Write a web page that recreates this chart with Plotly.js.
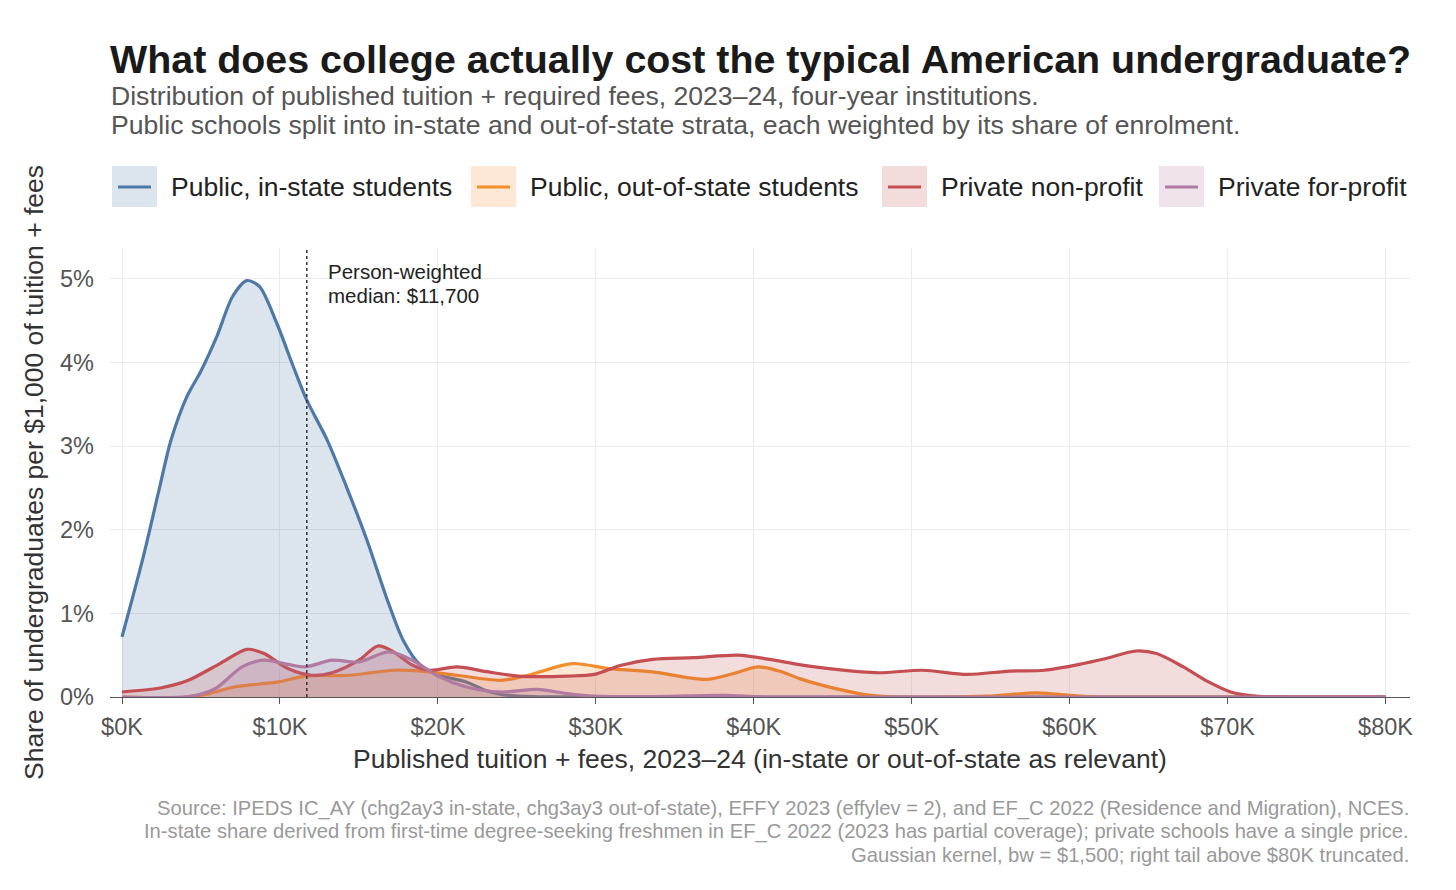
<!DOCTYPE html>
<html>
<head>
<meta charset="utf-8">
<script src="https://cdn.plot.ly/plotly-3.0.1.min.js"></script>
<style>
  html, body { margin: 0; padding: 0; background: #fff; }
  #chart { width: 1456px; height: 890px; }
</style>
</head>
<body>
<div id="chart"></div>
<script>
(function () {

	'use strict';

	// tuition in $K, density in % of undergraduates per $1,000
	const inStateX  = [0, 1.35, 2.3, 3.1, 4.1, 5.0, 6.0, 7.0, 7.9, 8.7, 9.8, 10.85, 11.7, 13.0, 14.2, 15.5, 16.8, 17.8, 18.9, 20.1, 21.8, 23.0, 24.0, 26.0, 30.0, 80.0];
	const inStateY  = [0.72, 1.68, 2.44, 3.07, 3.59, 3.90, 4.31, 4.79, 4.98, 4.91, 4.47, 3.95, 3.55, 3.07, 2.52, 1.88, 1.16, 0.68, 0.38, 0.26, 0.18, 0.08, 0.03, 0.005, 0, 0];

	const outStateX = [0, 4.2, 5.5, 7.1, 9.9, 11.6, 14.4, 17.2, 18.9, 21.2, 24.0, 25.7, 28.5, 30.8, 33.6, 37.0, 38.7, 40.3, 41.8, 42.9, 45.2, 47.4, 49.3, 54.8, 57.9, 60.6, 62.0, 80.0];
	const outStateY = [0, 0, 0.04, 0.12, 0.18, 0.25, 0.26, 0.32, 0.31, 0.26, 0.20, 0.26, 0.40, 0.34, 0.30, 0.21, 0.28, 0.36, 0.30, 0.22, 0.10, 0.02, 0, 0.01, 0.05, 0.01, 0, 0];

	const nonProfitX = [0, 2.5, 4.2, 6.2, 7.9, 9.0, 10.5, 12.0, 13.3, 15.0, 16.2, 17.2, 18.4, 19.5, 21.2, 23.2, 25.1, 28.2, 29.9, 31.6, 33.6, 36.2, 39.0, 41.0, 42.5, 45.2, 47.9, 50.7, 53.5, 56.2, 58.4, 60.6, 62.3, 64.2, 65.5, 67.2, 68.8, 70.2, 71.8, 74.0, 80.0];
	const nonProfitY = [0.06, 0.11, 0.20, 0.40, 0.57, 0.52, 0.34, 0.26, 0.29, 0.44, 0.61, 0.54, 0.38, 0.32, 0.36, 0.30, 0.25, 0.25, 0.27, 0.38, 0.45, 0.47, 0.50, 0.45, 0.40, 0.33, 0.29, 0.32, 0.27, 0.31, 0.32, 0.39, 0.46, 0.55, 0.52, 0.36, 0.18, 0.06, 0.01, 0, 0];

	const forProfitX = [0, 4.2, 5.9, 7.6, 9.0, 10.5, 11.6, 13.3, 15.0, 16.9, 18.4, 20.1, 21.8, 24.0, 26.3, 28.2, 29.9, 33.0, 38.1, 41.0, 80.0];
	const forProfitY = [0, 0.005, 0.10, 0.36, 0.44, 0.39, 0.36, 0.44, 0.42, 0.54, 0.44, 0.24, 0.12, 0.06, 0.09, 0.04, 0.01, 0.005, 0.02, 0, 0];

	const seriesNames  = ['Public, in-state students', 'Public, out-of-state students', 'Private non-profit', 'Private for-profit'];
	const seriesColors = ['#4e79a7', '#f28e2b', '#c44e52', '#b07aa1'];
	const seriesFills  = ['rgba(78,121,167,0.2)', 'rgba(242,142,43,0.2)', 'rgba(196,78,82,0.2)', 'rgba(176,122,161,0.2)'];

	const xTickVals = [0, 10, 20, 30, 40, 50, 60, 70, 80];
	const xTickText = ['$0K', '$10K', '$20K', '$30K', '$40K', '$50K', '$60K', '$70K', '$80K'];
	const yTickVals = [0, 1, 2, 3, 4, 5];
	const yTickText = ['0%', '1%', '2%', '3%', '4%', '5%'];

	const medianK = 11.7;
	const medianLabel = ['Person-weighted', 'median: $11,700'];

	const titleText = 'What does college actually cost the typical American undergraduate?';
	const subtitleLines = [
		'Distribution of published tuition + required fees, 2023–24, four-year institutions.',
		'Public schools split into in-state and out-of-state strata, each weighted by its share of enrolment.'
	];
	const sourceLines = [
		'Source: IPEDS IC_AY (chg2ay3 in-state, chg3ay3 out-of-state), EFFY 2023 (effylev = 2), and EF_C 2022 (Residence and Migration), NCES.',
		'In-state share derived from first-time degree-seeking freshmen in EF_C 2022 (2023 has partial coverage); private schools have a single price.',
		'Gaussian kernel, bw = $1,500; right tail above $80K truncated.'
	];

	// page geometry (pixels)
	const W = 1456, H = 890;
	const M = { l: 110, r: 46, t: 248, b: 193 };
	const plotW = W - M.l - M.r;
	const plotH = H - M.t - M.b;
	const px = x => (x - M.l) / plotW;
	const py = y => (H - M.b - y) / plotH;

	const FONT = '"Liberation Sans", Arial, Helvetica, sans-serif';

	/**
	* data traces
	*/
	const xs = [inStateX, outStateX, nonProfitX, forProfitX];
	const ys = [inStateY, outStateY, nonProfitY, forProfitY];

	const data = seriesNames.map( (name, i) => ({
		x: xs[i],
		y: ys[i],
		name,
		type: 'scatter',
		mode: 'lines',
		fill: 'tozeroy',
		fillcolor: seriesFills[i],
		line: { color: seriesColors[i], width: 3.2, shape: 'spline', smoothing: 0.8 },
		showlegend: false,
		hoverinfo: 'skip'
	}));

	/**
	* hand built legend - filled squares with a line through
	*/
	const legendLeft = [112, 471, 882, 1159];
	const shapes = [];
	const annotations = [];

	seriesNames.forEach( (name, i) => {
		const x0 = legendLeft[i];
		shapes.push({
			type: 'rect', xref: 'paper', yref: 'paper',
			x0: px(x0), x1: px(x0 + 45), y0: py(207), y1: py(166),
			fillcolor: seriesFills[i], line: { width: 0 }
		});
		shapes.push({
			type: 'line', xref: 'paper', yref: 'paper',
			x0: px(x0 + 6), x1: px(x0 + 39), y0: py(187), y1: py(187),
			line: { color: seriesColors[i], width: 3 }
		});
		annotations.push({
			xref: 'paper', yref: 'paper', x: px(x0 + 57), y: py(187),
			xanchor: 'left', yanchor: 'middle', showarrow: false,
			text: name, font: { family: FONT, size: 26.5, color: '#222' }
		});
	});

	// median marker
	shapes.push({
		type: 'line', xref: 'x', yref: 'paper',
		x0: medianK, x1: medianK, y0: 0, y1: 1,
		line: { color: '#333', width: 1.5, dash: 'dot' }
	});
	medianLabel.forEach( (t, i) => {
		annotations.push({
			xref: 'x', yref: 'paper', x: medianK + 1.2, y: py(271 + i * 24),
			xanchor: 'left', yanchor: 'middle', showarrow: false,
			text: t, font: { family: FONT, size: 20.5, color: '#222' }
		});
	});

	// title block
	annotations.push({
		xref: 'paper', yref: 'paper', x: px(108), y: py(59),
		xanchor: 'left', yanchor: 'middle', showarrow: false,
		text: '<b>' + titleText + '</b>',
		font: { family: FONT, size: 39.4, color: '#1a1a1a' }
	});
	subtitleLines.forEach( (t, i) => {
		annotations.push({
			xref: 'paper', yref: 'paper', x: px(109), y: py(96 + i * 29),
			xanchor: 'left', yanchor: 'middle', showarrow: false,
			text: t, font: { family: FONT, size: 26.6, color: '#555' }
		});
	});

	// source notes
	sourceLines.forEach( (t, i) => {
		annotations.push({
			xref: 'paper', yref: 'paper', x: px(1411), y: py(808 + i * 23.5),
			xanchor: 'right', yanchor: 'middle', showarrow: false,
			text: t, font: { family: FONT, size: 20.2, color: '#999' }
		});
	});

	const layout = {
		width: W,
		height: H,
		margin: M,
		paper_bgcolor: '#fff',
		plot_bgcolor: '#fff',
		font: { family: FONT, color: '#555' },
		showlegend: false,
		xaxis: {
			range: [-0.76, 81.55],
			tickvals: xTickVals,
			ticktext: xTickText,
			tickfont: { size: 23.5, color: '#555' },
			ticks: 'outside', ticklen: 6, tickcolor: '#555', tickwidth: 1,
			ticklabelstandoff: 3,
			showline: true, linecolor: '#555', linewidth: 1.2,
			showgrid: true, gridcolor: '#ebebeb', gridwidth: 1,
			zeroline: false,
			title: {
				text: 'Published tuition + fees, 2023–24 (in-state or out-of-state as relevant)',
				font: { size: 26.5, color: '#333' },
				standoff: 10
			}
		},
		yaxis: {
			range: [0, 5.37],
			tickvals: yTickVals,
			ticktext: yTickText,
			tickfont: { size: 23.5, color: '#555' },
			ticks: '',
			ticklabelstandoff: 15,
			showline: false,
			showgrid: true, gridcolor: '#ebebeb', gridwidth: 1,
			zeroline: false,
			title: {
				text: 'Share of undergraduates per $1,000 of tuition + fees',
				font: { size: 26.5, color: '#333' },
				standoff: 8
			}
		},
		shapes,
		annotations
	};

	Plotly.newPlot('chart', data, layout, { displayModeBar: false, responsive: false });

})();
</script>
</body>
</html>
